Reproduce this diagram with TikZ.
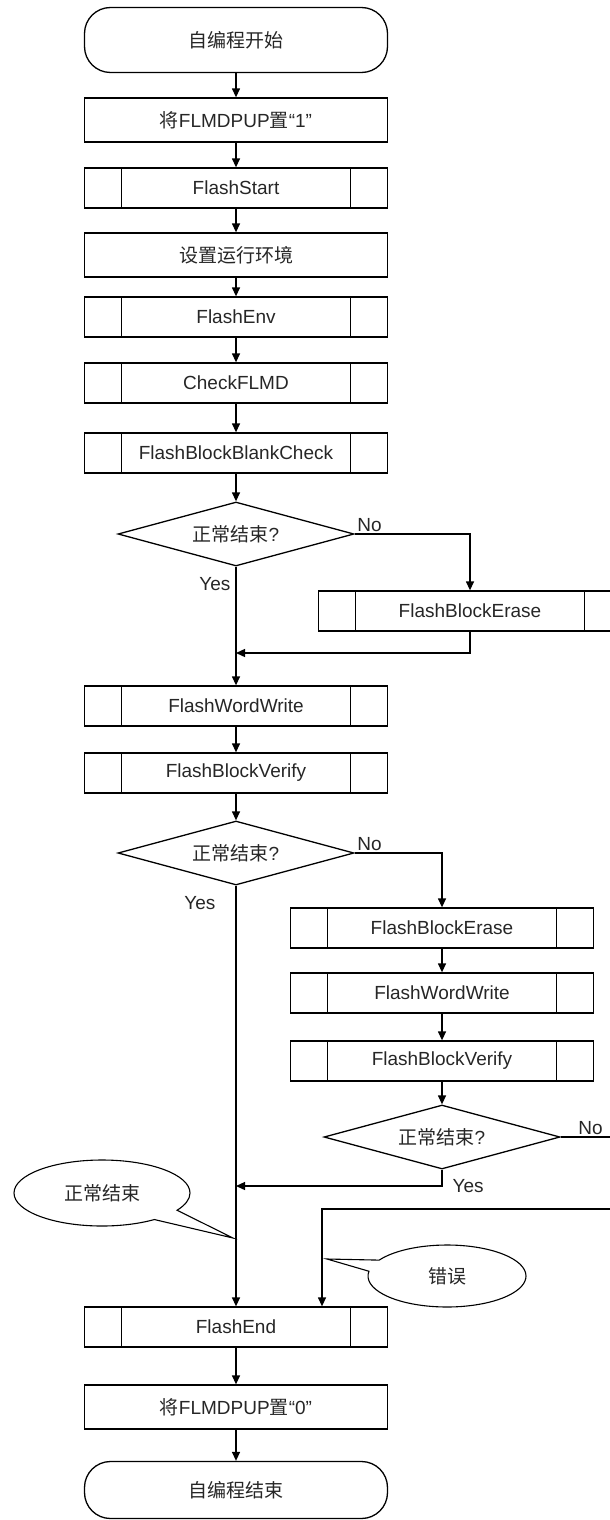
\documentclass[tikz,border=0pt]{standalone}
\usepackage{fontspec}
\setmainfont{Liberation Sans}
\newfontfamily\cjk{Noto Sans CJK SC}
\usepackage{tikz}
\usetikzlibrary{positioning,arrows.meta,shapes.geometric,shapes.callouts}

\newcommand{\zh}[1]{{\cjk #1}}

\begin{document}
\begin{tikzpicture}[x=1pt, y=-1pt,
  every node/.style={font=\fontsize{19}{22}\selectfont, text=black!85},
  box/.style={draw, line width=1.3pt, minimum width=303pt, minimum height=44pt,
              inner sep=0pt, align=center},
  subbox/.style={box, minimum height=40pt, path picture={
      \draw[line width=1.3pt]
        ([xshift=37pt]path picture bounding box.north west) -- ([xshift=37pt]path picture bounding box.south west)
        ([xshift=-37pt]path picture bounding box.north east) -- ([xshift=-37pt]path picture bounding box.south east);}},
  term/.style={box, minimum height=65pt, rounded corners=26pt},
  decide/.style={draw, diamond, aspect=3.7, line width=1.3pt, minimum width=236pt,
                 minimum height=64pt, inner sep=0pt},
  bubble/.style={draw, ellipse callout, line width=1.1pt, inner sep=0pt,
                 callout pointer arc=22},
  lbl/.style={inner sep=2pt},
  line width=1.3pt,
  >={Triangle[length=9pt, width=8pt]}]
\useasboundingbox (0,0) rectangle (610,1520);

% main column
\node[term] (start) at (236,40) {\zh{自编程开始}};
\node[box] (pup1) at (236,120) {\zh{将}FLMDPUP\zh{置}“1”};
\node[subbox] (fstart) at (236,188) {FlashStart};
\node[box] (env) at (236,255) {\zh{设置运行环境}};
\node[subbox] (fenv) at (236,317) {FlashEnv};
\node[subbox] (chkflmd) at (236,383) {CheckFLMD};
\node[subbox] (blank) at (236,453) {FlashBlockBlankCheck};
\node[decide] (ok1) at (236,534) {\zh{正常结束}?};
\node[subbox] (erase1) at (470,611) {FlashBlockErase};
\coordinate (join1) at (236,653);
\node[subbox] (write) at (236,706) {FlashWordWrite};
\node[subbox] (verify) at (236,773) {FlashBlockVerify};
\node[decide] (ok2) at (236,853) {\zh{正常结束}?};

% retry branch
\node[subbox] (erase2) at (442,928) {FlashBlockErase};
\node[subbox] (write2) at (442,993) {FlashWordWrite};
\node[subbox] (verify2) at (442,1061) {FlashBlockVerify};
\node[decide] (ok3) at (442,1137) {\zh{正常结束}?};
\coordinate (join2) at (236,1186);
\coordinate (errin) at (322,1209);

\node[subbox] (fend) at (236,1327) {FlashEnd};
\node[box] (pup0) at (236,1407) {\zh{将}FLMDPUP\zh{置}“0”};
\node[term, minimum height=57pt] (stop) at (236,1490) {\zh{自编程结束}};

% notes
\coordinate (oktip) at (233,1238);
\node[bubble, minimum width=176pt, minimum height=66pt,
      callout absolute pointer={(oktip)}] (okmsg) at (102,1193) {\zh{正常结束}};
\coordinate (errtip) at (327,1259);
\node[bubble, minimum width=158pt, minimum height=62pt,
      callout absolute pointer={(errtip)}] (errmsg) at (447,1276) {\zh{错误}};

\foreach \a/\b in {start/pup1, pup1/fstart, fstart/env, env/fenv, fenv/chkflmd,
                   chkflmd/blank, blank/ok1, write/verify, verify/ok2,
                   erase2/write2, write2/verify2, verify2/ok3, fend/pup0, pup0/stop}
  \draw[->] (\a) -- (\b);

\draw[->] (ok1.east) -| node[lbl, pos=0, above right] {No} (erase1.north);
\draw[->] (ok1.south) -- node[lbl, pos=0, below left, xshift=-3pt, yshift=-8pt] {Yes} (write.north);
\draw[->] (erase1.south) |- (join1);
\draw[->] (ok2.east) -| node[lbl, pos=0, above right] {No} (erase2.north);
\draw[->] (ok2.south) -- node[lbl, pos=0, below left, xshift=-18pt, yshift=-8pt] {Yes} (fend.north);
\draw[->] (ok3.south) |- node[lbl, pos=0.5, right, xshift=8pt] {Yes} (join2);
\draw (ok3.east) -- node[lbl, pos=0, above right, xshift=15pt] {No} ++(64,0);
\draw[->] (ok3.east) -- ++(64,0) |- (errin) -- (errin |- fend.north);
\end{tikzpicture}
\end{document}
